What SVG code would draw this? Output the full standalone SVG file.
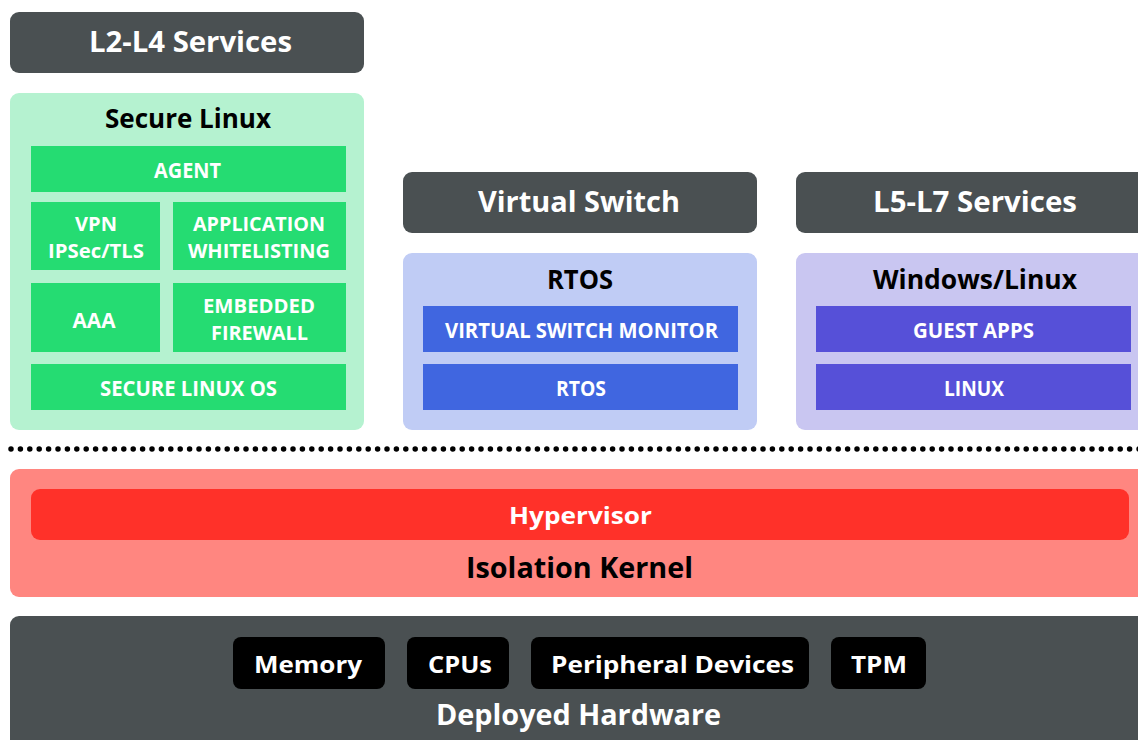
<svg xmlns="http://www.w3.org/2000/svg" width="1138" height="740" viewBox="0 0 1138 740">
<style>
text{font-family:"Open Sans","DejaVu Sans",sans-serif;font-weight:bold;text-anchor:middle}
.hdr{fill:#4a5052}
.hdrt{fill:#fff;font-size:28px}
.ttl{fill:#000;font-size:26px}
.lbl{fill:#fff;font-size:22px}
.lbl2{fill:#fff;font-size:19.5px}
.g{fill:#25dc72}
.b{fill:#4066e0}
.p{fill:#5650d8}
.chip{fill:#000}
.chipt{fill:#fff;font-size:24px}
</style>
<rect width="1138" height="740" fill="#fff"/>

<g id="l2l4">
<rect class="hdr" x="10" y="12" width="354" height="61" rx="9"/>
<text class="hdrt" x="190.5" y="52" textLength="203" lengthAdjust="spacingAndGlyphs">L2-L4 Services</text>
</g>

<g id="secure-linux">
<rect x="10" y="93" width="354" height="337" rx="9" fill="#b5f2d0"/>
<text class="ttl" x="188" y="128" textLength="166" lengthAdjust="spacingAndGlyphs">Secure Linux</text>
</g>
<g id="agent">
<rect class="g" x="31" y="146" width="315" height="46"/>
<text class="lbl" x="187.5" y="178" textLength="67" lengthAdjust="spacingAndGlyphs">AGENT</text>
</g>
<g id="vpn">
<rect class="g" x="31" y="202" width="129" height="68"/>
<text class="lbl2" x="96" y="231" textLength="42" lengthAdjust="spacingAndGlyphs">VPN</text>
<text class="lbl2" x="96" y="258" textLength="96" lengthAdjust="spacingAndGlyphs">IPSec/TLS</text>
</g>
<g id="app-whitelisting">
<rect class="g" x="173" y="202" width="173" height="68"/>
<text class="lbl2" x="259" y="231" textLength="132" lengthAdjust="spacingAndGlyphs">APPLICATION</text>
<text class="lbl2" x="259" y="258" textLength="142" lengthAdjust="spacingAndGlyphs">WHITELISTING</text>
</g>
<g id="aaa">
<rect class="g" x="31" y="283" width="129" height="69"/>
<text class="lbl" x="94" y="328" textLength="43" lengthAdjust="spacingAndGlyphs">AAA</text>
</g>
<g id="firewall">
<rect class="g" x="173" y="283" width="173" height="69"/>
<text class="lbl2" x="259" y="313" textLength="112" lengthAdjust="spacingAndGlyphs">EMBEDDED</text>
<text class="lbl2" x="259.5" y="340" textLength="97" lengthAdjust="spacingAndGlyphs">FIREWALL</text>
</g>
<g id="secure-linux-os">
<rect class="g" x="31" y="364" width="315" height="46"/>
<text class="lbl" x="188.5" y="396" textLength="177" lengthAdjust="spacingAndGlyphs">SECURE LINUX OS</text>
</g>

<g id="virtual-switch">
<rect class="hdr" x="403" y="172" width="354" height="61" rx="9"/>
<text class="hdrt" x="579" y="212" textLength="202" lengthAdjust="spacingAndGlyphs">Virtual Switch</text>
</g>
<g id="rtos">
<rect x="403" y="253" width="354" height="177" rx="9" fill="#c0ccf5"/>
<text class="ttl" x="580" y="289" textLength="66" lengthAdjust="spacingAndGlyphs">RTOS</text>
</g>
<g id="vsm">
<rect class="b" x="423" y="306" width="315" height="46"/>
<text class="lbl" x="581.5" y="338" textLength="273" lengthAdjust="spacingAndGlyphs">VIRTUAL SWITCH MONITOR</text>
</g>
<g id="rtos-inner">
<rect class="b" x="423" y="364" width="315" height="46"/>
<text class="lbl" x="581" y="396" textLength="50" lengthAdjust="spacingAndGlyphs">RTOS</text>
</g>

<g id="l5l7">
<rect class="hdr" x="796" y="172" width="360" height="61" rx="9"/>
<text class="hdrt" x="975" y="212" textLength="204" lengthAdjust="spacingAndGlyphs">L5-L7 Services</text>
</g>
<g id="windows-linux">
<rect x="796" y="253" width="360" height="177" rx="9" fill="#c9c6f1"/>
<text class="ttl" x="975" y="289" textLength="204" lengthAdjust="spacingAndGlyphs">Windows/Linux</text>
</g>
<g id="guest-apps">
<rect class="p" x="816" y="306" width="315" height="46"/>
<text class="lbl" x="973.5" y="338" textLength="121" lengthAdjust="spacingAndGlyphs">GUEST APPS</text>
</g>
<g id="linux">
<rect class="p" x="816" y="364" width="315" height="46"/>
<text class="lbl" x="974" y="396" textLength="60" lengthAdjust="spacingAndGlyphs">LINUX</text>
</g>

<g id="connectors">
<line x1="11" y1="449" x2="1140" y2="449" stroke="#000" stroke-width="5.5" stroke-linecap="round" stroke-dasharray="0 9.4"/>
</g>

<g id="isolation-kernel">
<rect x="10" y="469" width="1150" height="128" rx="9" fill="#ff8680"/>
<text class="ttl" x="579.5" y="578" style="font-size:28px" textLength="227" lengthAdjust="spacingAndGlyphs">Isolation Kernel</text>
</g>
<g id="hypervisor">
<rect x="31" y="489" width="1098" height="51" rx="9" fill="#ff3129"/>
<text class="chipt" x="580.5" y="524" textLength="143" lengthAdjust="spacingAndGlyphs">Hypervisor</text>
</g>

<g id="deployed-hardware">
<rect class="hdr" x="10" y="616" width="1150" height="140" rx="9"/>
<text class="hdrt" x="578.5" y="725" textLength="285" lengthAdjust="spacingAndGlyphs">Deployed Hardware</text>
</g>
<g id="memory">
<rect class="chip" x="233" y="637" width="152" height="52" rx="8"/>
<text class="chipt" x="308" y="673" textLength="108" lengthAdjust="spacingAndGlyphs">Memory</text>
</g>
<g id="cpus">
<rect class="chip" x="407" y="637" width="102" height="52" rx="8"/>
<text class="chipt" x="460" y="673" textLength="64" lengthAdjust="spacingAndGlyphs">CPUs</text>
</g>
<g id="peripheral-devices">
<rect class="chip" x="531" y="637" width="278" height="52" rx="8"/>
<text class="chipt" x="672.5" y="673" textLength="243" lengthAdjust="spacingAndGlyphs">Peripheral Devices</text>
</g>
<g id="tpm">
<rect class="chip" x="831" y="637" width="95" height="52" rx="8"/>
<text class="chipt" x="879" y="673" textLength="56" lengthAdjust="spacingAndGlyphs">TPM</text>
</g>
</svg>
